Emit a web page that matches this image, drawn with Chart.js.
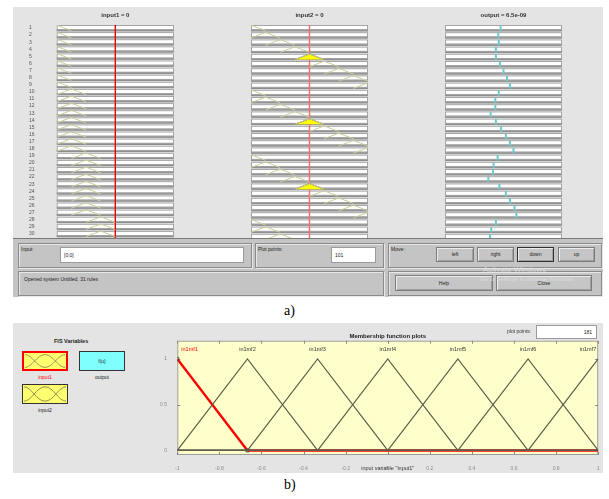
<!DOCTYPE html>
<html><head><meta charset="utf-8">
<script src="https://cdn.jsdelivr.net/npm/chart.js@4.4.0/dist/chart.umd.min.js"></script>
<style>
body{margin:0;width:609px;height:499px;overflow:hidden;background:#fff;position:relative;font-family:'Liberation Sans',Arial,sans-serif;}
.a{position:absolute;box-sizing:border-box;}
.t{position:absolute;font-size:5px;color:#222;white-space:nowrap;line-height:6px;}
.box{position:absolute;box-sizing:border-box;border:1px solid #8a8a8a;box-shadow:1px 1px 0 #e8e8e8, inset 1px 1px 0 #e8e8e8;}
.fld{position:absolute;box-sizing:border-box;background:#fff;border:1px solid #9a9a9a;font-size:5px;line-height:14px;padding-left:3px;color:#222;}
.btn{position:absolute;box-sizing:border-box;background:#c6c6c6;border:1px solid #7c7c7c;box-shadow:inset 1px 1px 0 #ececec, inset -1px -1px 0 #a0a0a0;font-size:5px;text-align:center;color:#222;}
canvas{position:absolute;}
</style></head><body>
<!-- panel a -->
<div class="a" style="left:13px;top:7px;width:590px;height:232px;background:#e4e4e4;z-index:0"></div>
<canvas id="c1" width="145" height="233" style="left:29px;top:8px;z-index:1"></canvas>
<canvas id="c2" width="117" height="233" style="left:251px;top:8px;z-index:1"></canvas>
<canvas id="c3" width="117" height="233" style="left:445px;top:8px;z-index:1"></canvas>
<div class="a" style="left:13px;top:238px;width:590px;height:59px;background:#c4c4c4;border-top:1px solid #7a7a7a;z-index:2"></div>
<div style="position:absolute;left:0;top:0;z-index:3">
  <div class="box" style="left:18px;top:243px;width:234px;height:25px"></div>
  <div class="t" style="left:21px;top:246px">Input:</div>
  <div class="fld" style="left:60px;top:247px;width:184px;height:16px" id="inputField"></div>
  <div class="box" style="left:255px;top:243px;width:129px;height:25px"></div>
  <div class="t" style="left:258px;top:246px">Plot points:</div>
  <div class="fld" style="left:331px;top:247px;width:45px;height:16px">101</div>
  <div class="box" style="left:388px;top:243px;width:214px;height:25px"></div>
  <div class="t" style="left:391px;top:246px">Move:</div>
  <div class="btn" style="left:436px;top:247px;width:38px;height:15px;line-height:13px">left</div>
  <div class="btn" style="left:477px;top:247px;width:37px;height:15px;line-height:13px">right</div>
  <div class="btn" style="left:517px;top:247px;width:37px;height:15px;line-height:13px;border-color:#303030">down</div>
  <div class="btn" style="left:558px;top:247px;width:37px;height:15px;line-height:13px">up</div>
  <div class="box" style="left:18px;top:271px;width:366px;height:25px"></div>
  <div class="t" style="left:24px;top:276px">Opened system Untitled, 31 rules</div>
  <div class="box" style="left:388px;top:271px;width:214px;height:25px"></div>
  <div class="btn" style="left:395px;top:275px;width:98px;height:16px;line-height:14px">Help</div>
  <div class="btn" style="left:496px;top:275px;width:96px;height:16px;line-height:14px">Close</div>
  <div class="t" style="left:483px;top:265px;font-size:8px;line-height:9px;color:rgba(235,235,235,0.6)">Activate Windows</div>
  <div class="t" style="left:480px;top:276px;font-size:6px;line-height:7px;color:rgba(235,235,235,0.6)">Go to Settings to activate Windows.</div>
</div>
<div class="a" style="left:0;top:303px;width:609px;font-family:'Liberation Serif','Times New Roman',serif;font-size:14px;line-height:16px;"><span style="position:absolute;left:284px">a)</span></div>

<!-- panel b -->
<div class="a" style="left:13px;top:323px;width:590px;height:150px;background:#e4e4e4;z-index:0"></div>
<canvas id="mfc" width="463" height="146" style="left:140px;top:326px;z-index:1"></canvas>
<div style="position:absolute;left:0;top:0;z-index:3">
  <div class="t" style="left:54px;top:338px;font-weight:bold;font-size:5.5px">FIS Variables</div>
  <div class="a" style="left:22px;top:351px;width:46px;height:20px;background:#ffff70;border:2px solid #ff0000">
    <svg width="42" height="16" viewBox="0 0 46 20" preserveAspectRatio="none" style="position:absolute;left:0;top:0"><g fill="none" stroke="#8a8a50" stroke-width="1"><path d="M1,2 C9,2 14,18 23,18"/><path d="M1,18 C9,18 14,2 23,2 C32,2 37,18 45,18"/><path d="M23,18 C32,18 37,2 45,2"/></g></svg>
  </div>
  <div class="a" style="left:79px;top:351px;width:46px;height:20px;background:#80ffff;border:1px solid #333;font-size:5px;line-height:18px;text-align:center;color:#222">f(u)</div>
  <div class="a" style="left:22px;top:384px;width:46px;height:20px;background:#ffff70;border:1px solid #333">
    <svg width="44" height="18" viewBox="0 0 46 20" preserveAspectRatio="none" style="position:absolute;left:0;top:0"><g fill="none" stroke="#8a8a50" stroke-width="1"><path d="M1,2 C9,2 14,18 23,18"/><path d="M1,18 C9,18 14,2 23,2 C32,2 37,18 45,18"/><path d="M23,18 C32,18 37,2 45,2"/></g></svg>
  </div>
  <div class="t" style="left:22px;top:374px;width:46px;text-align:center;color:#ff0000">input1</div>
  <div class="t" style="left:79px;top:374px;width:46px;text-align:center">output</div>
  <div class="t" style="left:22px;top:407px;width:46px;text-align:center">input2</div>
  <div class="t" style="left:507px;top:328px;color:#333">plot points:</div>
  <div class="fld" style="left:536px;top:325px;width:61px;height:14px;line-height:12px;text-align:right;padding-right:4px">181</div>
</div>
<div class="a" style="left:0;top:477px;width:609px;font-family:'Liberation Serif','Times New Roman',serif;font-size:14px;line-height:16px"><span style="position:absolute;left:284px">b)</span></div>

<script>
// ---------- data: rule viewer ----------
const rowLabels = ['1','2','3','4','5','6','7','8','9','10','11','12','13','14','15','16','17','18','19','20','21','22','23','24','25','26','27','28','29','30'];
const ruleMfParams = [[-1.25,-1,-0.75],[-1,-0.75,-0.5],[-0.75,-0.5,-0.25],[-0.5,-0.25,0],[-0.25,0,0.25],[0,0.25,0.5],[0.25,0.5,0.75],[0.5,0.75,1],[0.75,1,1.25]];
const ruleIn1 = [1,1,1,1,1,1,1,1,1,2,2,2,2,2,2,2,2,2,3,3,3,3,3,3,3,3,3,4,4,4];
const ruleIn2 = [1,2,3,4,5,6,7,8,9,1,2,3,4,5,6,7,8,9,1,2,3,4,5,6,7,8,9,1,2,3];
const ruleOut = [-0.05,-0.09,-0.08,-0.13,-0.13,-0.06,0.00,0.06,0.11,-0.08,-0.14,-0.14,-0.22,-0.13,-0.04,0.04,0.11,0.17,-0.10,-0.17,-0.18,-0.26,-0.07,0.04,0.11,0.19,0.22,-0.13,-0.21,-0.23];
const inputValues = [0, 0];
const outputValue = 6.5e-09;
const inputVecText = '[0;0]';

// ---------- data: membership function editor ----------
const mfNames = ['in1mf1','in1mf2','in1mf3','in1mf4','in1mf5','in1mf6','in1mf7'];
const mfParams = [[-1.3333,-1,-0.6667],[-1,-0.6667,-0.3333],[-0.6667,-0.3333,0],[-0.3333,0,0.3333],[0,0.3333,0.6667],[0.3333,0.6667,1],[0.6667,1,1.3333]];
const selectedMf = 0;
const mfVarName = 'input1';
const mfXTicks = [-1,-0.8,-0.6,-0.4,-0.2,0,0.2,0.4,0.6,0.8,1];
const mfYTicks = [0,0.5,1];

document.getElementById('inputField').textContent = inputVecText;

Chart.defaults.font.family = "'Liberation Sans', Arial, sans-serif";
Chart.defaults.animation = false;
Chart.defaults.responsive = false;
Chart.defaults.devicePixelRatio = 1;
Chart.defaults.plugins.legend.display = false;
Chart.defaults.plugins.tooltip.enabled = false;

const trimf = (x, p) => {
  const [a,b,c] = p;
  if (x <= a || x >= c) return (x === b) ? 1 : 0;
  return x <= b ? (b === a ? 1 : (x - a) / (b - a)) : (c === b ? 1 : (c - x) / (c - b));
};

const fmtExp = v => {
  if (v === 0) return '0';
  const [m, e] = v.toExponential(1).split('e');
  const n = parseInt(e, 10);
  return m + 'e' + (n < 0 ? '-' : '+') + String(Math.abs(n)).padStart(2, '0');
};

// row geometry (fractions of one rule row)
const ROW_WHITE = 0.6, ROW_BAND = 0.3, MF_TOP = 0.02, MF_H = 0.78;

const rowFrames = {
  id: 'rowFrames',
  beforeDatasetsDraw(chart) {
    const {ctx, chartArea: a, scales: {y}} = chart;
    ctx.save();
    rowLabels.forEach((_, i) => {
      const t = y.getPixelForValue(i);
      const p = y.getPixelForValue(i + 1) - t;
      const wh = p * ROW_WHITE, bh = p * ROW_BAND;
      ctx.fillStyle = '#ffffff';
      ctx.fillRect(a.left, t, a.width, wh);
      ctx.fillStyle = '#8e8e8e';
      ctx.fillRect(a.left, t + wh, a.width, bh);
      ctx.strokeStyle = '#a4a4a4';
      ctx.lineWidth = 1;
      ctx.strokeRect(a.left + 0.5, t + 0.5, a.width - 1, wh);
    });
    ctx.restore();
  }
};

function rowY(r, mu) { return r + MF_TOP + (1 - mu) * MF_H; }

function inputDatasets(ruleIdx, xVal, lineColor, redColor, redWidth) {
  const ds = [];
  ruleIdx.forEach((m, r) => {
    const p = ruleMfParams[m - 1];
    ds.push({data: p.map((x, k) => ({x, y: rowY(r, k === 1 ? 1 : 0)})),
      borderColor: lineColor, borderWidth: 1, pointRadius: 0, fill: false});
    const mu = trimf(xVal, p);
    if (mu > 0) {
      const [a,b,c] = p;
      const pts = [{x:a, y:rowY(r,0)}, {x:a + mu*(b-a), y:rowY(r,mu)}, {x:c - mu*(c-b), y:rowY(r,mu)}, {x:c, y:rowY(r,0)}];
      ds.push({data: pts, borderColor: '#6d6d2a', borderWidth: 1, backgroundColor: '#ffff00',
        pointRadius: 0, fill: {value: rowY(r, 0)}});
    }
  });
  ds.push({data: [{x: xVal, y: 0}, {x: xVal, y: rowLabels.length}], borderColor: redColor, borderWidth: redWidth, pointRadius: 0, fill: false});
  return ds;
}

function colOptions(title, showRows) {
  return {
    layout: {padding: 0},
    plugins: {title: {display: true, fullSize: false, text: title, color: '#333', font: {size: 6},
      padding: {top: 4.1, bottom: 5.7}}},
    scales: {
      x: {type: 'linear', min: -1, max: 1, display: false},
      y: {type: 'linear', min: 0, max: rowLabels.length, reverse: true, display: showRows,
        grid: {display: false}, border: {display: false},
        afterBuildTicks: s => { s.ticks = rowLabels.map((_, i) => ({value: i + 0.42})); },
        afterFit: s => { s.width = showRows ? 27.7 : 0; },
        ticks: {autoSkip: false, crossAlign: 'far', padding: 0, color: '#555', font: {size: 5},
          callback: (v, i) => rowLabels[i]}}
    }
  };
}

new Chart(document.getElementById('c1'), {
  type: 'line',
  data: {datasets: inputDatasets(ruleIn1, inputValues[0], '#cdcd9c', '#ee0000', 1)},
  options: colOptions('input1 = ' + inputValues[0], true),
  plugins: [rowFrames]
});
new Chart(document.getElementById('c2'), {
  type: 'line',
  data: {datasets: inputDatasets(ruleIn2, inputValues[1], '#cdcd9c', '#ff6a6a', 1.4)},
  options: colOptions('input2 = ' + inputValues[1], false),
  plugins: [rowFrames]
});
new Chart(document.getElementById('c3'), {
  type: 'line',
  data: {datasets: ruleOut.map((v, r) => ({data: [{x: v, y: r + 0.06}, {x: v, y: r + 0.82}],
    borderColor: '#6ccacd', borderWidth: 2, pointRadius: 0, fill: false}))},
  options: colOptions('output = ' + fmtExp(outputValue), false),
  plugins: [rowFrames]
});

// ---------- membership function plot ----------
const mfPoints = p => {
  const xs = [-1, p[0], p[1], p[2], 1].filter(x => x >= -1 && x <= 1);
  const u = [...new Set(xs)].sort((a, b) => a - b);
  return u.map(x => ({x, y: trimf(x, p)}));
};

const mfBg = {
  id: 'mfBg',
  beforeDatasetsDraw(chart) {
    const {ctx, chartArea: a, scales: {x, y}} = chart;
    ctx.save();
    ctx.fillStyle = '#ffffcc';
    ctx.fillRect(a.left, a.top, a.width, a.height);
    ctx.strokeStyle = '#9c9c9c';
    ctx.lineWidth = 1;
    ctx.strokeRect(a.left + 0.5, a.top + 0.5, a.width - 1, a.height - 1);
    ctx.strokeStyle = '#8a8a8a';
    ctx.beginPath();
    mfXTicks.forEach(v => {
      const px = Math.round(x.getPixelForValue(v)) + 0.5;
      ctx.moveTo(px, a.top); ctx.lineTo(px, a.top + 3);
      ctx.moveTo(px, a.bottom); ctx.lineTo(px, a.bottom - 3);
    });
    mfYTicks.forEach(v => {
      const py = Math.round(y.getPixelForValue(v)) + 0.5;
      ctx.moveTo(a.left, py); ctx.lineTo(a.left + 3, py);
      ctx.moveTo(a.right, py); ctx.lineTo(a.right - 3, py);
    });
    ctx.stroke();
    ctx.restore();
  },
  afterDatasetsDraw(chart) {
    const {ctx, chartArea: a, scales: {x, y}} = chart;
    ctx.save();
    ctx.font = "5.5px 'Liberation Sans', Arial, sans-serif";
    ctx.textBaseline = 'middle';
    mfNames.forEach((n, i) => {
      const b = mfParams[i][1];
      let px = x.getPixelForValue(Math.max(-1, Math.min(1, b)));
      ctx.textAlign = 'center';
      if (b <= -1) { ctx.textAlign = 'left'; px += 4; }
      else if (b >= 1) { ctx.textAlign = 'right'; px -= 2; }
      ctx.fillStyle = i === selectedMf ? '#ff0000' : '#333';
      ctx.fillText(n, px, y.getPixelForValue(1.1));
    });
    ctx.restore();
  }
};

const mfDatasets = [];
mfParams.forEach((p, i) => {
  if (i === selectedMf) return;
  mfDatasets.push({data: mfPoints(p), borderColor: '#5e5e4a', borderWidth: 1.2, pointRadius: 0, fill: false});
});
{
  const pts = mfPoints(mfParams[selectedMf]);
  mfDatasets.push({data: pts, borderColor: '#ff0000', borderWidth: 2.4, fill: false,
    pointStyle: 'rect', pointRadius: pts.map((_, k) => k < pts.length - 1 ? 2.2 : 0),
    pointBackgroundColor: 'rgba(0,0,0,0)', pointBorderColor: '#444', pointBorderWidth: 0.8});
}

new Chart(document.getElementById('mfc'), {
  type: 'line',
  data: {datasets: mfDatasets},
  options: {
    layout: {padding: {left: 0, right: 4.7, top: 0, bottom: 0}},
    plugins: {title: {display: true, fullSize: false, text: 'Membership function plots', color: '#222',
      font: {size: 6, weight: 'bold'}, padding: {top: 6.4, bottom: 1.1}}},
    scales: {
      x: {type: 'linear', min: -1, max: 1, grid: {display: false}, border: {display: false},
        afterBuildTicks: s => { s.ticks = mfXTicks.map(v => ({value: v})); },
        afterFit: s => { s.height = 17; },
        ticks: {autoSkip: false, maxRotation: 0, padding: 2.7, color: '#8a8a8a', font: {size: 5},
          callback: (v, i) => String(mfXTicks[i])},
        title: {display: true, text: 'input variable "' + mfVarName + '"', color: '#333', font: {size: 5.5},
          padding: {top: 1, bottom: 0}}},
      y: {type: 'linear', min: -0.05, max: 1.2, grid: {display: false}, border: {display: false},
        afterBuildTicks: s => { s.ticks = mfYTicks.map(v => ({value: v})); },
        afterFit: s => { s.width = 37.3; },
        ticks: {autoSkip: false, padding: 2.3, color: '#8a8a8a', font: {size: 5},
          callback: (v, i) => String(mfYTicks[i])}}
    }
  },
  plugins: [mfBg]
});
</script>
</body></html>
